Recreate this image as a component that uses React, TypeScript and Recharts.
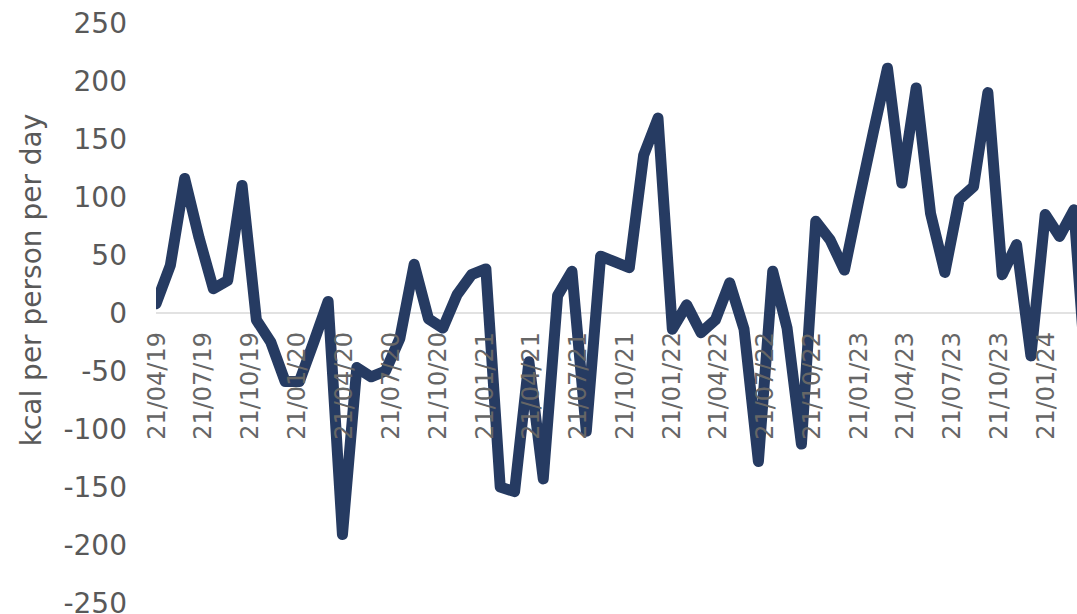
import React from "react";
import { LineChart, Line, XAxis, YAxis, ReferenceLine, ReferenceDot } from "recharts";

// Four-weekly periods, starting with the period ending 21/04/19.
const FIRST_PERIOD = { year: 2019, month: 4, day: 21 };
const PERIOD_DAYS = 28;

// Change in kcal per person per day, one value per four-week period.
const kcalChange = [
  8, 41, 116, 65, 21, 28, 110, -6, -25, -59,
  -59, -25, 10, -191, -47, -55, -50, -22, 42, -5,
  -13, 16, 33, 38, -150, -154, -42, -143, 15, 36,
  -102, 49, 44, 39, 136, 168, -14, 7, -17, -6,
  26, -14, -128, 36, -13, -113, 79, 63, 37, 97,
  155, 211, 112, 194, 86, 35, 98, 109, 190, 33,
  59, -37, 85, 66, 89, -80,
];

// Quarterly date labels on the time axis.
const dateTicks = [
  "21/04/19", "21/07/19", "21/10/19", "21/01/20", "21/04/20",
  "21/07/20", "21/10/20", "21/01/21", "21/04/21", "21/07/21",
  "21/10/21", "21/01/22", "21/04/22", "21/07/22", "21/10/22",
  "21/01/23", "21/04/23", "21/07/23", "21/10/23", "21/01/24",
];

const yTicks = [-250, -200, -150, -100, -50, 0, 50, 100, 150, 200, 250];

// Visible window of the time axis, in days after the first period.
const X_WINDOW_DAYS = 1798;

const DAY_MS = 86400000;
const dayNumber = (y: number, m: number, d: number) => Date.UTC(y, m - 1, d) / DAY_MS;
const parseLabel = (s: string) => {
  const [d, m, y] = s.split("/").map(Number);
  return dayNumber(2000 + y, m, d);
};

const startDay = dayNumber(FIRST_PERIOD.year, FIRST_PERIOD.month, FIRST_PERIOD.day);

const data = kcalChange.map((v, i) => ({ day: startDay + i * PERIOD_DAYS, kcal: v }));

const FONT = "'DejaVu Sans', Verdana, sans-serif";
const TEXT = "#595959";
const LINE = "#263B62";

const DateLabel = ({ cx, cy, text }: { cx?: number; cy?: number; text: string }) => {
  if (cx == null || cy == null) return null;
  const y = cy + 19;
  return (
    <text
      x={cx}
      y={y}
      transform={`rotate(-90 ${cx} ${y})`}
      textAnchor="end"
      dy="0.36em"
      fontSize={24}
      fontFamily={FONT}
      fill="#666666"
    >
      {text}
    </text>
  );
};

const YTitle = (props: any) => {
  const vb = props.viewBox || { x: 0, y: 0, width: 0, height: 0 };
  const x = vb.x + 41;
  const y = vb.y + vb.height / 2 - 33;
  return (
    <text
      x={x}
      y={y}
      transform={`rotate(-90 ${x} ${y})`}
      textAnchor="middle"
      fontSize={28}
      fontFamily={FONT}
      fill={TEXT}
    >
      kcal per person per day
    </text>
  );
};

export default function App() {
  return (
    <div style={{ position: "fixed", left: 0, top: 0, width: 1077, height: 614, background: "#fff" }}>
      <LineChart
        width={1077}
        height={614}
        data={data}
        margin={{ top: 23, right: 0, bottom: 11, left: 0 }}
      >
        <XAxis
          dataKey="day"
          type="number"
          domain={[startDay, startDay + X_WINDOW_DAYS]}
          allowDataOverflow
          hide
        />
        <YAxis
          type="number"
          domain={[-250, 250]}
          ticks={yTicks}
          interval={0}
          width={156}
          axisLine={false}
          tickLine={false}
          tickMargin={23}
          tick={{ fontSize: 28, fill: TEXT, fontFamily: FONT }}
          label={<YTitle />}
        />
        <ReferenceLine y={0} stroke="#D9D9D9" strokeWidth={1.5} />
        <Line
          dataKey="kcal"
          type="linear"
          stroke={LINE}
          strokeWidth={11}
          strokeLinejoin="round"
          strokeLinecap="round"
          dot={false}
          activeDot={false}
          isAnimationActive={false}
        />
        {dateTicks.map((t) => (
          <ReferenceDot
            key={t}
            x={parseLabel(t)}
            y={0}
            r={0}
            shape={(p: any) => <DateLabel cx={p.cx} cy={p.cy} text={t} />}
          />
        ))}
      </LineChart>
    </div>
  );
}
